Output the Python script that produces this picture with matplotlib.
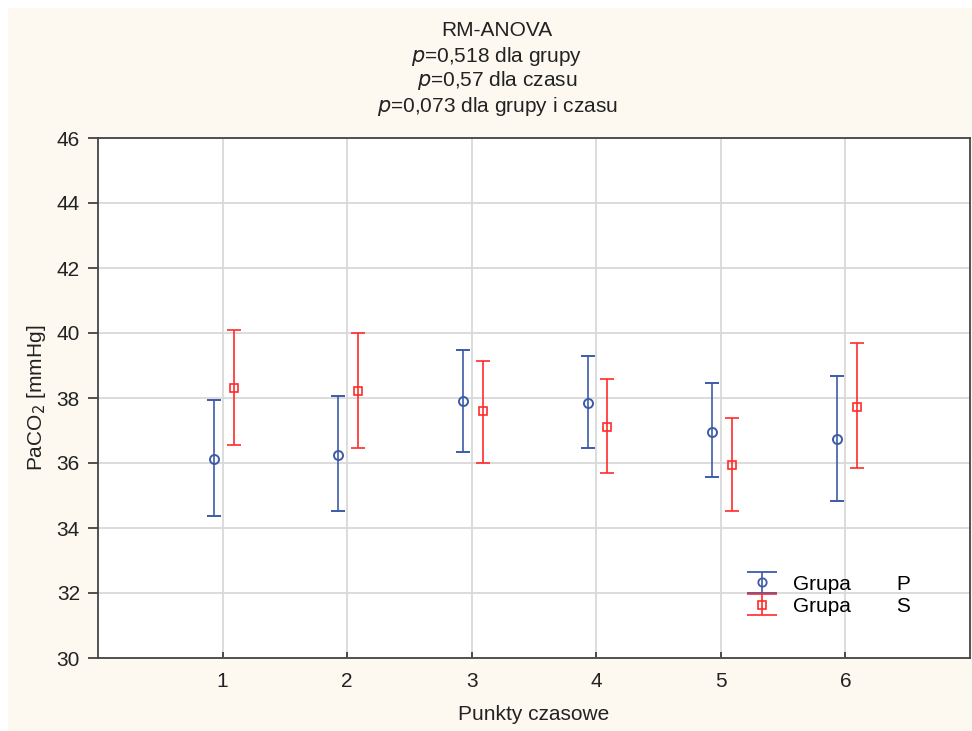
import matplotlib
matplotlib.use("Agg")
import numpy as np
import matplotlib.pyplot as plt
from matplotlib.patches import Rectangle

plt.rcParams['font.family'] = ['Liberation Sans', 'DejaVu Sans']

time_points = [1, 2, 3, 4, 5, 6]
group_p_mean = [36.12, 36.25, 37.91, 37.85, 36.96, 36.75]
group_p_low = [34.38, 34.51, 36.33, 36.46, 35.58, 34.82]
group_p_high = [37.93, 38.05, 39.47, 39.28, 38.45, 38.67]
group_s_mean = [38.30, 38.22, 37.59, 37.10, 35.95, 37.72]
group_s_low = [36.55, 36.47, 36.01, 35.70, 34.51, 35.84]
group_s_high = [40.08, 39.99, 39.15, 38.58, 37.38, 39.69]
y_ticks = [30, 32, 34, 36, 38, 40, 42, 44, 46]
title_lines = ["RM-ANOVA", r"$\it{p}$=0,518 dla grupy", r"$\it{p}$=0,57 dla czasu", r"$\it{p}$=0,073 dla grupy i czasu"]
legend_labels = ["Grupa        P", "Grupa        S"]

blue = '#3d5ba9'
red = '#ff2b2b'
fs = 15

fig = plt.figure(figsize=(9.72, 7.31), dpi=100)
fig.patch.set_facecolor('white')
fig.patches.append(Rectangle((8/972, 0), 1 - 8/972, 1 - 8/731, transform=fig.transFigure,
                             facecolor='#fdf9f0', edgecolor='none', zorder=-10))

ax = fig.add_axes([98/972, 1 - 658/731, (970 - 98)/972, (658 - 138)/731])
ax.set_facecolor('white')

xp = [t - 0.07 for t in time_points]
xs = [t + 0.09 for t in time_points]
p_err = [[m - l for m, l in zip(group_p_mean, group_p_low)], [h - m for m, h in zip(group_p_mean, group_p_high)]]
s_err = [[m - l for m, l in zip(group_s_mean, group_s_low)], [h - m for m, h in zip(group_s_mean, group_s_high)]]

ax.errorbar(xp, group_p_mean, yerr=p_err, fmt='o', color=blue, mfc='none', mec=blue,
            ms=6.5, mew=1.4, capsize=5, elinewidth=1.2, capthick=1.2, zorder=3)
ax.errorbar(xs, group_s_mean, yerr=s_err, fmt='s', color=red, mfc='none', mec=red,
            ms=6, mew=1.2, capsize=5, elinewidth=1.2, capthick=1.2, zorder=3)

# legend proxies (no data drawn)
hp = ax.errorbar([np.nan], [np.nan], yerr=[[1], [1]], fmt='o', color=blue, mfc='none', mec=blue,
                 ms=6, mew=1.3, capsize=11, elinewidth=1.2, capthick=1.2, label=legend_labels[0])
hs = ax.errorbar([np.nan], [np.nan], yerr=[[1], [1]], fmt='s', color=red, mfc='none', mec=red,
                 ms=5.5, mew=1.2, capsize=11, elinewidth=1.2, capthick=1.2, label=legend_labels[1])

ax.set_xlim(0, 7)
ax.set_ylim(30, 46)
ax.set_xticks(time_points)
ax.set_yticks(y_ticks)
ax.grid(True, color='#d9d9d9', linewidth=1.3)
ax.set_axisbelow(True)
ax.tick_params(axis='y', direction='out', length=7, width=1.2, labelsize=fs, colors='#333333', pad=6)
ax.tick_params(axis='x', direction='in', length=4, width=1.2, labelsize=fs, colors='#333333', pad=10)
for lab in ax.get_xticklabels() + ax.get_yticklabels():
    lab.set_color('#222222')
for sp in ax.spines.values():
    sp.set_color('#444444')
    sp.set_linewidth(1.3)

ax.set_xlabel('Punkty czasowe', fontsize=fs, color='#222222', labelpad=10)
ax.set_ylabel(r'PaCO$_2$ [mmHg]', fontsize=fs, color='#222222', labelpad=6)

ys = [31, 56, 81, 107]
for t, y in zip(title_lines, ys):
    fig.text(497/972, 1 - y/731, t, ha='center', va='center', fontsize=fs, color='#222222')

leg = ax.legend(handles=[hp, hs], loc='lower right', bbox_to_anchor=(0.942, 0.065), frameon=False,
                fontsize=fs, handlelength=1.8, handletextpad=0.6, labelspacing=0.15,
                borderaxespad=0)

fig.savefig('out.png', dpi=100, facecolor=fig.get_facecolor())
